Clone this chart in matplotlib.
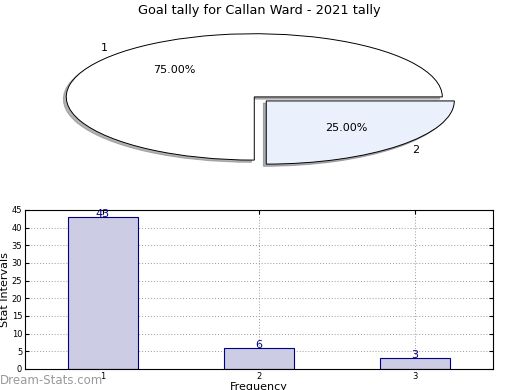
import matplotlib
matplotlib.use('Agg')
import matplotlib.pyplot as plt

# Data
pie_labels = ['1', '2']
pie_values = [75, 25]
pie_colors = ['white', '#eaf0fc']

bar_labels = ['1', '2', '3']
bar_values = [43, 6, 3]
y_ticks = list(range(0, 50, 5))

fig = plt.figure(figsize=(5.2, 3.9), dpi=100)

# Pie (squashed, old-style)
ax1 = fig.add_axes([0.037, 0.549, 0.904, 0.405])
ax1.pie(pie_values, labels=pie_labels, colors=pie_colors, explode=[0, 0.09],
        autopct='%1.2f%%', startangle=0,
        shadow={'ox': -0.011, 'oy': -0.025, 'shade': 0.5, 'alpha': 0.6},
        wedgeprops={'edgecolor': 'black', 'linewidth': 0.7},
        textprops={'fontsize': 8})
ax1.set_aspect('auto')
ax1.set_xlim(-1.25, 1.25)
ax1.set_ylim(-1.25, 1.25)
fig.text(0.499, 0.974, 'Goal tally for Callan Ward - 2021 tally', ha='center', va='center', fontsize=9.3)

# Bars
ax2 = fig.add_axes([0.048, 0.054, 0.9, 0.408])
x = [1, 2, 3]
ax2.bar(x, bar_values, width=0.45, color='#ccccE4', edgecolor='#000080', linewidth=0.8, zorder=2)
for xi, v in zip(x, bar_values):
    ax2.text(xi, v - 0.6, str(v), ha='center', va='bottom', color='#000080', fontsize=8, zorder=3)
ax2.set_xlim(0.5, 3.5)
ax2.set_ylim(0, 45)
ax2.set_xticks(x)
ax2.set_xticklabels(bar_labels)
ax2.set_yticks(y_ticks)
ax2.tick_params(labelsize=6, direction='in', top=True, right=True, length=3, pad=2)
ax2.grid(True, linestyle=(0, (1, 2)), color='#999999', linewidth=0.7, zorder=0)
ax2.set_axisbelow(True)
ax2.set_xlabel('Frequency', fontsize=8, labelpad=1)
ax2.set_ylabel('Stat Intervals', fontsize=8, labelpad=1)

fig.text(0.0, 0.025, 'Dream-Stats.com', color='#999999', fontsize=8.5, ha='left', va='center')

fig.savefig('out.png', dpi=100)
